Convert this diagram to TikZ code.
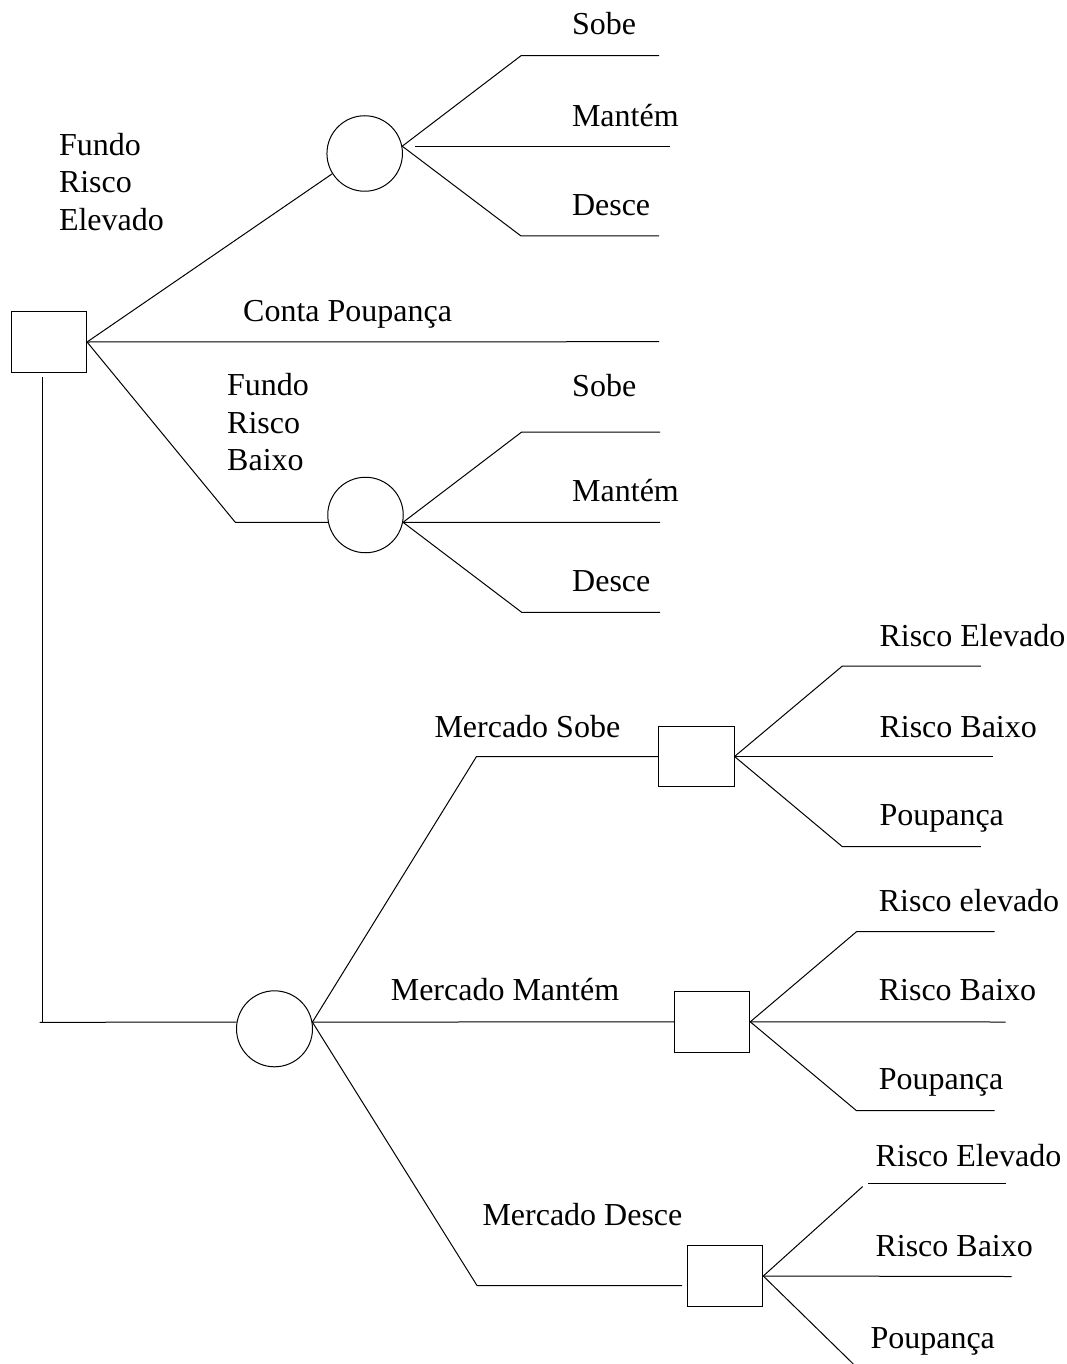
\documentclass[tikz,border=0pt]{standalone}
\usepackage{fontspec}
\setmainfont{Liberation Serif}
\begin{document}
\begin{tikzpicture}[x=1pt,y=-1pt,line width=1pt,
  dsq/.style={draw,rectangle,minimum width=75.5pt,minimum height=60.5pt,inner sep=0pt},
  chance/.style={draw,circle,minimum size=75.5pt,inner sep=0pt},
  lbl/.style={anchor=base west,inner sep=0pt,font=\fontsize{32}{37.5}\selectfont},
  edge/.style={draw,line width=1pt}]
\useasboundingbox (0,0) rectangle (1066,1364);

% ---------- decision and chance nodes ----------
\node[dsq] (D0) at (48.8,342) {};
\node[chance] (C1) at (364.7,153.5) {};
\node[chance] (C2) at (365.5,515) {};
\node[chance,minimum size=76pt] (C3) at (274.5,1028.8) {};
\node[dsq] (D1) at (696.3,756.5) {};
\node[dsq] (D2) at (712,1021.8) {};
\node[dsq] (D3) at (725,1276) {};

% ---------- corner / end coordinates ----------
\coordinate (u1) at (521,55.7);   \coordinate (u1e) at (659,55.7);
\coordinate (m1s) at (414.8,146.2); \coordinate (m1e) at (670,146.2);
\coordinate (l1) at (521,236);    \coordinate (l1e) at (659,236);
\coordinate (cpe) at (659,341.7);
\coordinate (rb) at (235.3,522.3);
\coordinate (u2) at (521.7,432);  \coordinate (u2e) at (660,432);
\coordinate (m2e) at (660,522.3);
\coordinate (l2) at (521.7,612.3); \coordinate (l2e) at (660,612.3);
\coordinate (vtop) at (42.3,377); \coordinate (vbot) at (42.3,1022.3);
\coordinate (hst) at (39.5,1022.3);
\coordinate (ms) at (476.5,756.5);
\coordinate (md) at (477,1285.5); \coordinate (mde) at (682,1285.5);
\coordinate (a1) at (842.4,666);   \coordinate (a1e) at (980.9,666);
\coordinate (a2e) at (992.8,756.5);
\coordinate (a3) at (842.4,846.7); \coordinate (a3e) at (980.9,846.7);
\coordinate (b1) at (856.5,931.7); \coordinate (b1e) at (994.5,931.7);
\coordinate (b2e) at (1005.5,1022);
\coordinate (b3) at (856.5,1110.7); \coordinate (b3e) at (994.5,1110.7);
\coordinate (c1) at (862.7,1186.5); \coordinate (c1s) at (868.3,1183.5); \coordinate (c1e) at (1005.7,1183.5);
\coordinate (c2e) at (1011.7,1276.5);
\coordinate (c3) at (853.3,1364);

% ---------- connectors ----------
\draw[edge] (D0.east) -- (C1.212);
\draw[edge] (C1.11) -- (u1) -- (u1e);
\draw[edge] (m1s) -- (m1e);
\draw[edge] (C1.11) -- (l1) -- (l1e);
\draw[edge] (D0.east) -- (cpe);
\draw[edge] (D0.east) -- (rb) -- (C2.191);
\draw[edge] (C2.349) -- (u2) -- (u2e);
\draw[edge] (C2.349) -- (m2e);
\draw[edge] (C2.349) -- (l2) -- (l2e);
\draw[edge] (vtop) -- (vbot);
\draw[edge] (hst) -- (C3.170);
\draw[edge] (C3.10) -- (ms) -- (D1.west);
\draw[edge] (C3.10) -- (D2.west);
\draw[edge] (C3.10) -- (md) -- (mde);
\draw[edge] (D1.east) -- (a1) -- (a1e);
\draw[edge] (D1.east) -- (a2e);
\draw[edge] (D1.east) -- (a3) -- (a3e);
\draw[edge] (D2.east) -- (b1) -- (b1e);
\draw[edge] (D2.east) -- (b2e);
\draw[edge] (D2.east) -- (b3) -- (b3e);
\draw[edge] (D3.east) -- (c1);
\draw[edge] (c1s) -- (c1e);
\draw[edge] (D3.east) -- (c2e);
\draw[edge] (D3.east) -- (c3);

% ---------- labels ----------
\node[lbl] (t1) at (571.5,34.8) {Sobe};
\node[lbl] (t2) at (571.5,126.5) {Mantém};
\node[lbl] (t3) at (571.5,215.4) {Desce};
\node[lbl] (fa1) at (58.5,155.3) {Fundo};
\node[lbl] (fa2) at (58.5,192.5) {Risco};
\node[lbl] (fa3) at (58.5,230.4) {Elevado};
\node[lbl] (cp) at (242.7,321.7) {Conta Poupança};
\node[lbl] (fb1) at (226.7,395.7) {Fundo};
\node[lbl] (fb2) at (226.7,433.3) {Risco};
\node[lbl] (fb3) at (226.7,470.7) {Baixo};
\node[lbl] (t4) at (571.7,396.7) {Sobe};
\node[lbl] (t5) at (571.7,501.7) {Mantém};
\node[lbl] (t6) at (571.7,591.7) {Desce};
\node[lbl] (ms1) at (434,737.3) {Mercado Sobe};
\node[lbl] (r1) at (879,646.7) {Risco Elevado};
\node[lbl] (r2) at (879,737.3) {Risco Baixo};
\node[lbl] (r3) at (879,825.5) {Poupança};
\node[lbl] (mm1) at (390.3,1000.7) {Mercado Mantém};
\node[lbl] (r4) at (878.3,911.7) {Risco elevado};
\node[lbl] (r5) at (878.3,1000.7) {Risco Baixo};
\node[lbl] (r6) at (878.3,1089.5) {Poupança};
\node[lbl] (md1) at (482,1225.5) {Mercado Desce};
\node[lbl] (r7) at (875,1166) {Risco Elevado};
\node[lbl] (r8) at (875,1256.7) {Risco Baixo};
\node[lbl] (r9) at (870,1348.3) {Poupança};
\end{tikzpicture}
\end{document}
